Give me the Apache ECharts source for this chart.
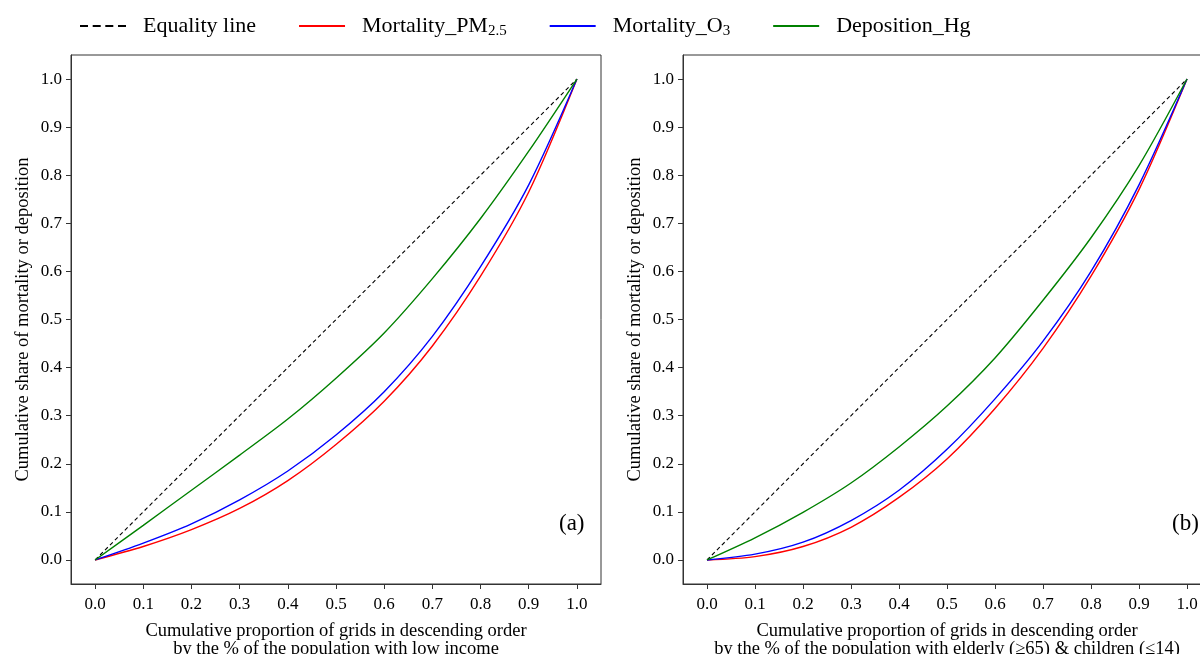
<!DOCTYPE html>
<html>
<head>
<meta charset="utf-8">
<script src="https://cdn.jsdelivr.net/npm/echarts@6/dist/echarts.min.js"></script>
<style>
  html, body { margin: 0; padding: 0; background: #fff; }
  #chart { width: 1200px; height: 654px; }
</style>
</head>
<body>
<div id="chart"></div>
<script>
// x positions shared by all curves
var xs = [0, 0.1, 0.2, 0.3, 0.4, 0.5, 0.6, 0.7, 0.8, 0.9, 1.0];
var tickValues = [0, 0.1, 0.2, 0.3, 0.4, 0.5, 0.6, 0.7, 0.8, 0.9, 1.0];

// panel (a): low income
var pm25_a = [0, 0.028, 0.063, 0.107, 0.165, 0.24, 0.33, 0.445, 0.59, 0.765, 1.0];
var o3_a   = [0, 0.035, 0.075, 0.125, 0.185, 0.26, 0.35, 0.465, 0.61, 0.78, 1.0];
var hg_a   = [0, 0.072, 0.145, 0.218, 0.293, 0.378, 0.472, 0.585, 0.71, 0.85, 1.0];

// panel (b): elderly & children
var pm25_b = [0, 0.007, 0.028, 0.068, 0.13, 0.21, 0.315, 0.44, 0.59, 0.77, 1.0];
var o3_b   = [0, 0.012, 0.037, 0.082, 0.145, 0.23, 0.335, 0.455, 0.6, 0.78, 1.0];
var hg_b   = [0, 0.046, 0.099, 0.16, 0.235, 0.32, 0.42, 0.54, 0.67, 0.82, 1.0];

var equality = [[0, 0], [1, 1]];

var names = ['Equality line', 'Mortality_PM2.5', 'Mortality_O3', 'Deposition_Hg'];
var colors = ['#000000', '#ff0000', '#0000ff', '#008000'];

var font = 'Liberation Serif, Times New Roman, serif';

// legend icons: plain line / dashed line
var solidIcon = 'path://M0,0H46V2H0Z';
var dashIcon = 'path://M0,0H8V2H0Z M12.7,0H20.7V2H12.7Z M25.3,0H33.3V2H25.3Z M38,0H46V2H38Z';

function pairs(ys){
    var out = [];
    for(let i in xs){
        out.push([xs[i], ys[i]]);
    }
    return out;
}

function xAxis(idx, title){
    return {
        type: 'value', gridIndex: idx, min: -0.05, max: 1.05,
        name: title, nameLocation: 'middle', nameGap: 38,
        nameTextStyle: {fontFamily: font, fontSize: 18.5, color: '#000', lineHeight: 18},
        axisLine: {show: true, onZero: false, lineStyle: {color: '#333'}},
        axisTick: {show: true, length: 5, customValues: tickValues, lineStyle: {color: '#333'}},
        axisLabel: {customValues: tickValues, margin: 12, fontFamily: font, fontSize: 17, color: '#000',
            formatter: function(v){ return v.toFixed(1); }},
        splitLine: {show: false}
    };
}

function yAxis(idx){
    return {
        type: 'value', gridIndex: idx, min: -0.05, max: 1.05,
        name: 'Cumulative share of mortality or deposition', nameLocation: 'middle', nameGap: 38,
        nameTextStyle: {fontFamily: font, fontSize: 18.5, color: '#000'},
        axisLine: {show: true, onZero: false, lineStyle: {color: '#333'}},
        axisTick: {show: true, length: 5, customValues: tickValues, lineStyle: {color: '#333'}},
        axisLabel: {customValues: tickValues, margin: 9, fontFamily: font, fontSize: 17, color: '#000',
            formatter: function(v){ return v.toFixed(1); }},
        splitLine: {show: false}
    };
}

function lineSeries(name, idx, data, color, dashed){
    return {
        name: name, type: 'line', xAxisIndex: idx, yAxisIndex: idx,
        data: data, smooth: dashed ? false : 0.3, symbol: 'none',
        itemStyle: {color: color},
        lineStyle: {color: color, width: dashed ? 1.1 : 1.4, type: dashed ? [4, 3] : 'solid'},
        z: dashed ? 1 : 2
    };
}

var chart = echarts.init(document.getElementById('chart'));

var option = {
    backgroundColor: '#fff',
    animation: false,
    legend: {
        data: [
            {name: names[0], icon: dashIcon},
            {name: names[1], icon: solidIcon},
            {name: names[2], icon: solidIcon},
            {name: names[3], icon: solidIcon}
        ],
        left: 75, top: 10,
        itemWidth: 46, itemHeight: 2, itemGap: 43,
        textStyle: {fontFamily: font, fontSize: 22, color: '#000', padding: [0, 0, 0, 12],
            rich: {
                n: {fontFamily: font, fontSize: 22, color: '#000'},
                s: {fontFamily: font, fontSize: 15, color: '#000', padding: [11, 0, 0, 0]}
            }},
        formatter: function(name){
            if(name == 'Mortality_PM2.5') return '{n|Mortality_PM}{s|2.5}';
            if(name == 'Mortality_O3') return '{n|Mortality_O}{s|3}';
            return '{n|' + name + '}';
        }
    },
    grid: [
        {left: 71, top: 55, width: 530, height: 529, show: true, borderColor: '#333', borderWidth: 1,
            containLabel: false, outerBoundsMode: 'none'},
        {left: 683, top: 55, width: 528, height: 529, show: true, borderColor: '#333', borderWidth: 1,
            containLabel: false, outerBoundsMode: 'none'}
    ],
    xAxis: [
        xAxis(0, 'Cumulative proportion of grids in descending order\nby the % of the population with low income'),
        xAxis(1, 'Cumulative proportion of grids in descending order\nby the % of the population with elderly (\u226565) & children (\u226414)')
    ],
    yAxis: [yAxis(0), yAxis(1)],
    graphic: [
        {type: 'text', left: 559, top: 512, style: {text: '(a)', fontFamily: font, fontSize: 23, fill: '#000'}},
        {type: 'text', left: 1172, top: 512, style: {text: '(b)', fontFamily: font, fontSize: 23, fill: '#000'}}
    ],
    series: [
        lineSeries(names[0], 0, equality, colors[0], true),
        lineSeries(names[1], 0, pairs(pm25_a), colors[1], false),
        lineSeries(names[2], 0, pairs(o3_a), colors[2], false),
        lineSeries(names[3], 0, pairs(hg_a), colors[3], false),
        lineSeries(names[0], 1, equality, colors[0], true),
        lineSeries(names[1], 1, pairs(pm25_b), colors[1], false),
        lineSeries(names[2], 1, pairs(o3_b), colors[2], false),
        lineSeries(names[3], 1, pairs(hg_b), colors[3], false)
    ]
};
chart.setOption(option);
</script>
</body>
</html>
